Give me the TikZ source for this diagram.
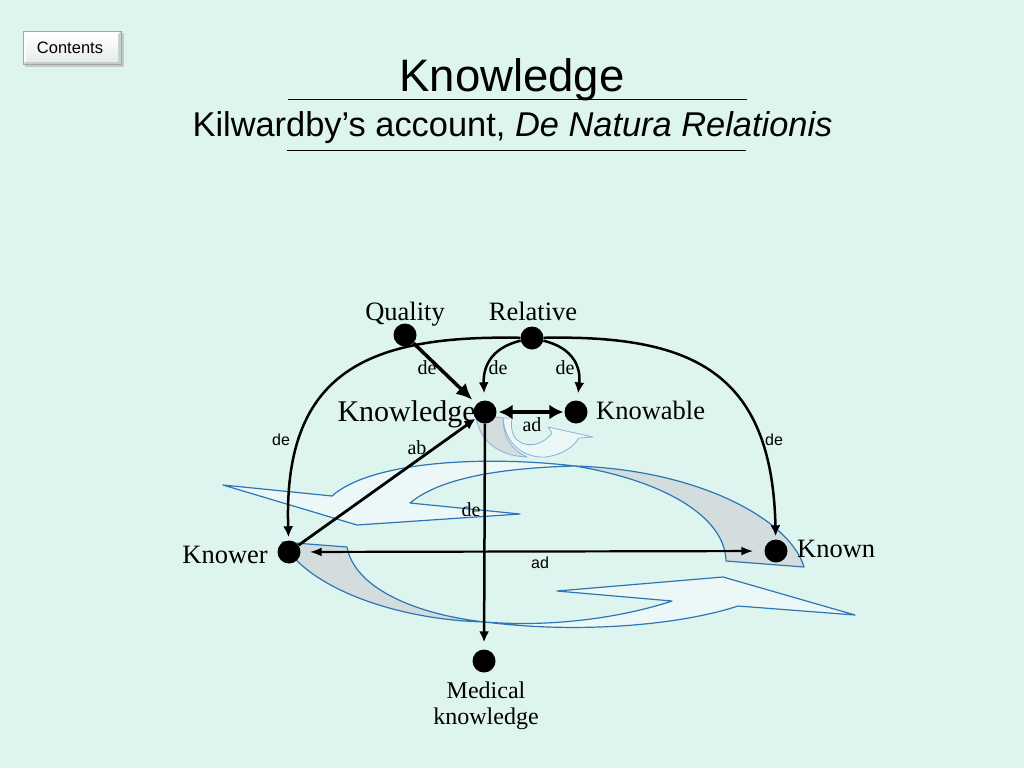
\documentclass[tikz,border=0pt]{standalone}
\usepackage{fontspec}
\setmainfont{Liberation Serif}
\newfontfamily\arialf{Liberation Sans}
\usetikzlibrary{arrows.meta}
\definecolor{bg}{RGB}{221,244,239}
\definecolor{shapeblue}{RGB}{46,117,182}
\definecolor{smallblue}{RGB}{140,176,214}
\definecolor{lightf}{RGB}{236,248,247}
\definecolor{grayf}{RGB}{212,221,221}
\definecolor{btnedge}{RGB}{196,208,206}
\definecolor{btnface}{RGB}{230,237,236}
\tikzset{
  dot/.style={circle,fill=black,inner sep=0pt,minimum size=23pt},
  lab/.style={inner sep=0pt,font=\fontsize{26.5}{30}\selectfont},
  smalllab/.style={inner sep=0pt,font=\fontsize{20}{22}\selectfont},
  sanslab/.style={inner sep=0pt,font=\arialf\fontsize{16}{18}\selectfont},
  con/.style={line width=2.5pt,-{Latex[length=11pt,width=10pt]}},
  heavy/.style={line width=3.5pt,-{Latex[length=16pt,width=15pt]}},
  dbl/.style={line width=3.5pt,{Latex[length=14pt,width=15pt]}-{Latex[length=14pt,width=15pt]}},
  thindbl/.style={line width=2.2pt,{Latex[length=12pt,width=9pt]}-{Latex[length=12pt,width=9pt]}},
  bigshape/.style={draw=shapeblue,line width=1.2pt,line join=round},
  smallshape/.style={draw=smallblue,line width=0.8pt,line join=round}
}
\begin{document}
\begin{tikzpicture}[x=1pt,y=-1pt]
\useasboundingbox (0,0) rectangle (1024,768);
\fill[bg] (0,0) rectangle (1024,768);

% Contents button
\fill[black!35,opacity=0.5] (25,33) rectangle (124,67);
\fill[btnedge] (23,31) rectangle (121,64);
\fill[white] (23,31) -- (121,31) -- (118,34) -- (26,34) -- (26,61) -- (23,64) -- cycle;
\shade[top color=white,bottom color=btnface] (26,34) rectangle (118,61);
\draw[gray!70,line width=0.6pt] (23,31) rectangle (121,64);
\node[inner sep=0pt,font=\arialf\fontsize{16.5}{18}\selectfont] (btn) at (70,48) {Contents};

% Title
\node[inner sep=0pt,anchor=base,font=\arialf\fontsize{45.5}{50}\selectfont] (title) at (512,91) {Knowledge};
\node[inner sep=0pt,anchor=base,font=\arialf\fontsize{34.4}{40}\selectfont] (subtitle) at (512.5,136) {Kilwardby’s account, \textit{De Natura Relationis}};
\draw[line width=1pt] (288,99.5) -- (747,99.5);
\draw[line width=1pt] (287,150) -- (746,150);

% big circular arrow shapes
\filldraw[bigshape,fill=lightf] (332,496) .. controls (370,462) and (480,455) .. (575,466)
  .. controls (500,468) and (440,478) .. (410,503) -- (520,514) -- (357,525) -- (223,485) -- cycle;
\filldraw[bigshape,fill=grayf] (575,466) .. controls (700,470) and (790,520) .. (804,567)
  -- (726,561) .. controls (725,515) and (660,480) .. (575,466) -- cycle;
\filldraw[bigshape,fill=grayf] (282,542) -- (347,547) .. controls (355,590) and (420,615) .. (485,622)
  .. controls (400,620) and (310,590) .. (282,542) -- cycle;
\filldraw[bigshape,fill=lightf] (485,622) .. controls (560,628) and (630,615) .. (672,601)
  -- (557,591) -- (723,577) -- (855,615) -- (738,606) .. controls (680,625) and (580,634) .. (485,622) -- cycle;

% small circular arrow
\filldraw[smallshape,fill=lightf] (503,418) .. controls (505,445) and (525,458) .. (545,457)
  .. controls (563,455) and (574,446) .. (579,438) -- (593,437) -- (548,427) -- (552,433)
  .. controls (543,446) and (522,450) .. (514,436) .. controls (511,430) and (511,424) .. (512,418) -- cycle;
\filldraw[smallshape,fill=grayf] (476,414) .. controls (478,442) and (500,456) .. (527,457)
  .. controls (512,450) and (503,438) .. (503,418) -- cycle;

% labels
\node[lab,anchor=base] (lqual) at (405,320) {Quality};
\node[lab,anchor=base] (lrel) at (533,320) {Relative};
\node[inner sep=0pt,anchor=base east,font=\fontsize{30}{32}\selectfont] (lkn) at (476,421) {Knowledge};
\node[lab,anchor=base west] (lkbl) at (596,419) {Knowable};
\node[lab,anchor=base east] (lknower) at (268,563) {Knower};
\node[lab,anchor=base west] (lknown) at (797,557) {Known};
\node[inner sep=0pt,align=center,font=\fontsize{24}{26.5}\selectfont] (lmed) at (486,706) {Medical\\knowledge};

% dots
\node[dot] (qual) at (405,335) {};
\node[dot] (rel) at (532,338) {};
\node[dot] (kn) at (485,412) {};
\node[dot] (kbl) at (576,412) {};
\node[dot] (knower) at (289,552) {};
\node[dot] (known) at (776,551) {};
\node[dot] (med) at (484,661) {};

% connectors
\draw[con,shorten >=3pt] (rel) .. controls (370,335) and (283,370) .. (knower);
\draw[con,shorten >=3pt] (rel) .. controls (690,335) and (772,370) .. (known);
\draw[con,shorten >=7pt] (rel) .. controls (490,348) and (483,368) .. (kn);
\draw[con,shorten >=7pt] (rel) .. controls (574,348) and (581,368) .. (kbl);
\draw[heavy,shorten >=6pt] (qual) -- (kn);
\draw[con,line width=2.8pt] (knower) -- (kn);
\draw[con,shorten >=7pt] (kn) -- (med);
\draw[dbl,shorten <=2pt,shorten >=1pt] (kn) -- (kbl);
\draw[thindbl,shorten <=9pt,shorten >=11pt] (knower) -- (known);

% edge labels
\node[smalllab] (de1) at (427,368) {de};
\node[smalllab] (de2) at (498,368) {de};
\node[smalllab] (de3) at (565,368) {de};
\node[smalllab] (ad1) at (532,425) {ad};
\node[smalllab] (ab1) at (417,448) {ab};
\node[smalllab] (de4) at (471,510) {de};
\node[sanslab] (de5) at (281,440) {de};
\node[sanslab] (de6) at (774,440) {de};
\node[sanslab] (ad2) at (540,563) {ad};
\end{tikzpicture}
\end{document}
